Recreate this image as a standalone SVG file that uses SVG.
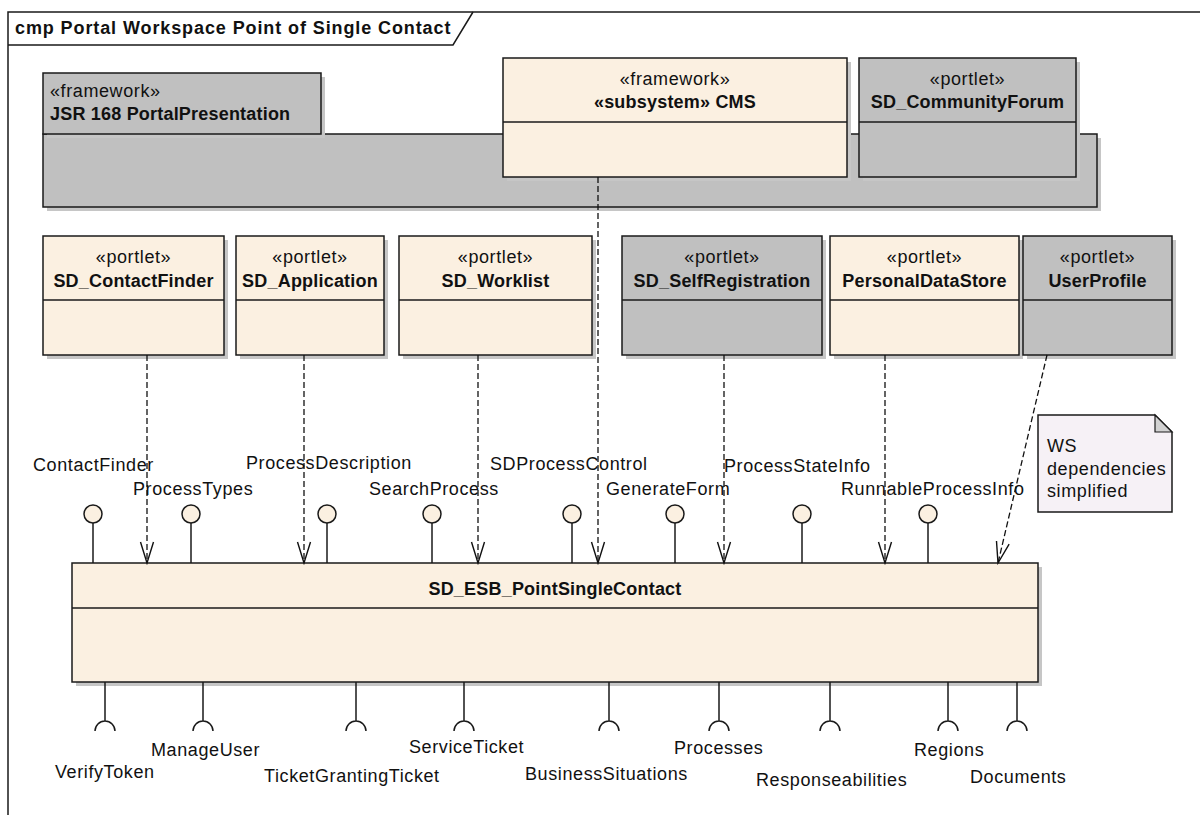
<svg xmlns="http://www.w3.org/2000/svg" width="1200" height="815" viewBox="0 0 1200 815">
  <defs>
    <style>
      .box { stroke: #1a1a1a; stroke-width: 1.5; }
      .beige { fill: #fbf0e1; }
      .grey { fill: #c0c0c0; }
      .shadow { fill: #c6c6c6; stroke: none; }
      .ln { stroke: #1a1a1a; stroke-width: 1.5; fill: none; }
      .t { font-family: "Liberation Sans", Arial, sans-serif; font-size: 18px; fill: #111; letter-spacing: 0.6px; }
      .b { font-weight: bold; letter-spacing: 0.2px; }
      .c { text-anchor: middle; }
      .title { font-weight: bold; letter-spacing: 0.9px; }
      .dep { fill: none; stroke: #111; stroke-width: 1.3; stroke-dasharray: 6 3; marker-end: url(#open); }
      .ball { fill: #fbf0e1; stroke: #1a1a1a; stroke-width: 1.5; }
    </style>
    <marker id="open" markerUnits="userSpaceOnUse" viewBox="-22 -8 24 16" refX="0" refY="0" markerWidth="24" markerHeight="16" orient="auto">
      <path d="M -21 -6.5 L 0 0 L -21 6.5" fill="none" stroke="#111" stroke-width="1.4" stroke-dasharray="none"/>
    </marker>
  </defs>

  <rect width="1200" height="815" fill="#ffffff"/>

  <!-- diagram frame with title tab -->
  <g id="frame">
    <path class="ln" d="M 8 815 V 12 H 1200"/>
    <path class="ln" d="M 8 45 H 453 L 473 12"/>
    <text class="t title" x="15" y="34">cmp Portal Workspace Point of Single Contact</text>
  </g>

  <!-- JSR 168 framework package -->
  <g id="jsr168">
    <rect class="shadow" x="47" y="138" width="1054" height="73"/>
    <rect class="box grey" x="43" y="134" width="1054" height="73"/>
    <rect class="shadow" x="47" y="77" width="278" height="61"/>
    <rect class="box grey" x="43" y="73" width="278" height="61"/>
    <text class="t" x="50" y="97">«framework»</text>
    <text class="t b" x="50" y="120">JSR 168 PortalPresentation</text>
  </g>

  <g id="cms">
    <rect class="shadow" x="507" y="62" width="344" height="119"/>
    <rect class="box beige" x="503" y="58" width="344" height="119"/>
    <line class="ln" x1="503" y1="122" x2="847" y2="122"/>
    <text class="t c" x="675" y="85">«framework»</text>
    <text class="t b c" x="675" y="108">«subsystem» CMS</text>
  </g>

  <g id="communityForum">
    <rect class="shadow" x="863" y="62" width="217" height="119"/>
    <rect class="box grey" x="859" y="58" width="217" height="119"/>
    <line class="ln" x1="859" y1="122" x2="1076" y2="122"/>
    <text class="t c" x="967.5" y="85">«portlet»</text>
    <text class="t b c" x="967.5" y="108">SD_CommunityForum</text>
  </g>

  <!-- portlets -->
  <g id="contactFinder">
    <rect class="shadow" x="47" y="240" width="181" height="119"/>
    <rect class="box beige" x="43" y="236" width="181" height="119"/>
    <line class="ln" x1="43" y1="300" x2="224" y2="300"/>
    <text class="t c" x="133.5" y="263">«portlet»</text>
    <text class="t b c" x="133.5" y="287">SD_ContactFinder</text>
  </g>

  <g id="application">
    <rect class="shadow" x="240" y="240" width="148" height="119"/>
    <rect class="box beige" x="236" y="236" width="148" height="119"/>
    <line class="ln" x1="236" y1="300" x2="384" y2="300"/>
    <text class="t c" x="310" y="263">«portlet»</text>
    <text class="t b c" x="310" y="287">SD_Application</text>
  </g>

  <g id="worklist">
    <rect class="shadow" x="403" y="240" width="193" height="119"/>
    <rect class="box beige" x="399" y="236" width="193" height="119"/>
    <line class="ln" x1="399" y1="300" x2="592" y2="300"/>
    <text class="t c" x="495.5" y="263">«portlet»</text>
    <text class="t b c" x="495.5" y="287">SD_Worklist</text>
  </g>

  <g id="selfRegistration">
    <rect class="shadow" x="626" y="240" width="200" height="119"/>
    <rect class="box grey" x="622" y="236" width="200" height="119"/>
    <line class="ln" x1="622" y1="300" x2="822" y2="300"/>
    <text class="t c" x="722" y="263">«portlet»</text>
    <text class="t b c" x="722" y="287">SD_SelfRegistration</text>
  </g>

  <g id="personalDataStore">
    <rect class="shadow" x="834" y="240" width="189" height="119"/>
    <rect class="box beige" x="830" y="236" width="189" height="119"/>
    <line class="ln" x1="830" y1="300" x2="1019" y2="300"/>
    <text class="t c" x="924.5" y="263">«portlet»</text>
    <text class="t b c" x="924.5" y="287">PersonalDataStore</text>
  </g>

  <g id="userProfile">
    <rect class="shadow" x="1027" y="240" width="149" height="119"/>
    <rect class="box grey" x="1023" y="236" width="149" height="119"/>
    <line class="ln" x1="1023" y1="300" x2="1172" y2="300"/>
    <text class="t c" x="1097.5" y="263">«portlet»</text>
    <text class="t b c" x="1097.5" y="287">UserProfile</text>
  </g>

  <!-- note -->
  <g id="note">
    <path d="M 1038 415 H 1155 L 1172 432 V 512 H 1038 Z" fill="#f6f1f6" stroke="#1a1a1a" stroke-width="1.5"/>
    <path d="M 1155 415 V 432 H 1172 Z" fill="#d2d2d2" stroke="#1a1a1a" stroke-width="1.2"/>
    <text class="t" x="1047" y="452">WS</text>
    <text class="t" x="1047" y="475">dependencies</text>
    <text class="t" x="1047" y="497">simplified</text>
  </g>

  <!-- ESB component -->
  <g id="esbPointSingleContact">
    <rect class="shadow" x="76" y="567" width="966" height="119"/>
    <rect class="box beige" x="72" y="563" width="966" height="119"/>
    <line class="ln" x1="72" y1="608" x2="1038" y2="608"/>
    <text class="t b c" x="555" y="595">SD_ESB_PointSingleContact</text>
  </g>

  <!-- provided interfaces (lollipops) -->
  <g id="providedInterfaces">
    <g id="pi-contactFinder"><line class="ln" x1="93" y1="523" x2="93" y2="563"/><circle class="ball" cx="93" cy="514" r="9"/><text class="t" x="33" y="471">ContactFinder</text></g>
    <g id="pi-processTypes"><line class="ln" x1="191" y1="523" x2="191" y2="563"/><circle class="ball" cx="191" cy="514" r="9"/><text class="t" x="133" y="495">ProcessTypes</text></g>
    <g id="pi-processDescription"><line class="ln" x1="327" y1="523" x2="327" y2="563"/><circle class="ball" cx="327" cy="514" r="9"/><text class="t" x="246" y="469">ProcessDescription</text></g>
    <g id="pi-searchProcess"><line class="ln" x1="432" y1="523" x2="432" y2="563"/><circle class="ball" cx="432" cy="514" r="9"/><text class="t" x="369" y="495">SearchProcess</text></g>
    <g id="pi-sdProcessControl"><line class="ln" x1="572" y1="523" x2="572" y2="563"/><circle class="ball" cx="572" cy="514" r="9"/><text class="t" x="490" y="470">SDProcessControl</text></g>
    <g id="pi-generateForm"><line class="ln" x1="675" y1="523" x2="675" y2="563"/><circle class="ball" cx="675" cy="514" r="9"/><text class="t" x="606" y="495">GenerateForm</text></g>
    <g id="pi-processStateInfo"><line class="ln" x1="802" y1="523" x2="802" y2="563"/><circle class="ball" cx="802" cy="514" r="9"/><text class="t" x="724" y="472">ProcessStateInfo</text></g>
    <g id="pi-runnableProcessInfo"><line class="ln" x1="928" y1="523" x2="928" y2="563"/><circle class="ball" cx="928" cy="514" r="9"/><text class="t" x="841" y="495">RunnableProcessInfo</text></g>
  </g>

  <!-- required interfaces (sockets) -->
  <g id="requiredInterfaces">
    <g id="ri-verifyToken"><path class="ln" d="M 105 682 V 721 M 95 731 A 10 10 0 0 1 115 731"/><text class="t" x="55" y="778">VerifyToken</text></g>
    <g id="ri-manageUser"><path class="ln" d="M 203 682 V 721 M 193 731 A 10 10 0 0 1 213 731"/><text class="t" x="151" y="756">ManageUser</text></g>
    <g id="ri-tgt"><path class="ln" d="M 356 682 V 721 M 346 731 A 10 10 0 0 1 366 731"/><text class="t" x="264" y="782">TicketGrantingTicket</text></g>
    <g id="ri-serviceTicket"><path class="ln" d="M 464 682 V 721 M 454 731 A 10 10 0 0 1 474 731"/><text class="t" x="409" y="753">ServiceTicket</text></g>
    <g id="ri-businessSituations"><path class="ln" d="M 609 682 V 721 M 599 731 A 10 10 0 0 1 619 731"/><text class="t" x="525" y="780">BusinessSituations</text></g>
    <g id="ri-processes"><path class="ln" d="M 719 682 V 721 M 709 731 A 10 10 0 0 1 729 731"/><text class="t" x="674" y="754">Processes</text></g>
    <g id="ri-responseabilities"><path class="ln" d="M 830 682 V 721 M 820 731 A 10 10 0 0 1 840 731"/><text class="t" x="756" y="786">Responseabilities</text></g>
    <g id="ri-regions"><path class="ln" d="M 948 682 V 721 M 938 731 A 10 10 0 0 1 958 731"/><text class="t" x="914" y="756">Regions</text></g>
    <g id="ri-documents"><path class="ln" d="M 1017 682 V 721 M 1007 731 A 10 10 0 0 1 1027 731"/><text class="t" x="970" y="783">Documents</text></g>
  </g>

  <!-- usage dependencies -->
  <g id="connectors">
    <path class="dep" d="M 147 355 V 563"/>
    <path class="dep" d="M 304 355 V 563"/>
    <path class="dep" d="M 478 355 V 563"/>
    <path class="dep" d="M 598 177 V 563"/>
    <path class="dep" d="M 724 355 V 563"/>
    <path class="dep" d="M 885 355 V 563"/>
    <path class="dep" d="M 1047 355 L 998 563"/>
  </g>
</svg>
